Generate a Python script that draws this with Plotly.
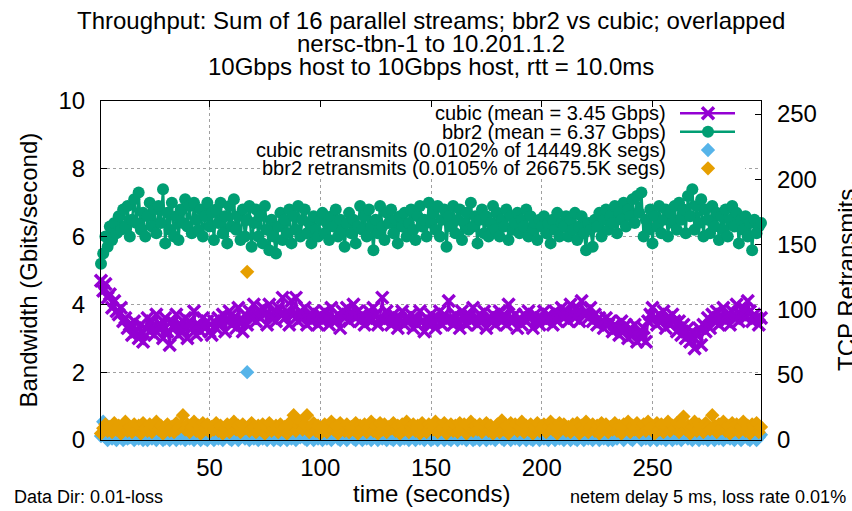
import plotly.graph_objects as go

# ---- measured series (one sample per second) ----
time_s = list(range(1, 300))

bbr2_gbps = [
    5.2, 5.5, 6.0, 5.7, 6.3, 5.9, 6.4, 6.1, 6.6, 6.2,
    6.8, 6.3, 6.9, 6.0, 6.5, 7.1, 6.4, 7.3, 6.2, 6.7,
    6.0, 6.6, 7.0, 6.3, 6.8, 6.1, 6.9, 6.4, 7.4, 5.8,
    6.7, 6.2, 7.0, 6.0, 6.6, 5.9, 6.8, 6.4, 7.1, 6.3,
    6.9, 6.1, 7.0, 6.5, 6.2, 6.8, 6.0, 6.6, 7.0, 6.3,
    6.7, 5.9, 6.8, 6.4, 7.0, 6.1, 6.6, 5.8, 6.9, 6.3,
    7.1, 6.2, 6.6, 5.9, 6.8, 6.0, 6.5, 6.9, 5.7, 6.4,
    6.8, 6.0, 6.6, 5.8, 6.9, 6.2, 5.6, 6.5, 6.0, 5.5,
    6.3, 6.7, 5.9, 6.5, 6.1, 6.8, 5.8, 6.6, 6.2, 6.9,
    6.0, 6.5, 6.8, 6.1, 6.4, 5.8, 6.6, 6.2, 6.0, 6.5,
    6.7, 6.1, 6.4, 5.9, 6.6, 6.3, 6.8, 6.0, 6.5, 6.2,
    5.7, 6.4, 6.7, 6.1, 6.5, 5.8, 6.3, 6.9, 6.2, 6.6,
    6.0, 6.8, 6.3, 5.6, 6.5, 6.1, 6.9, 6.3, 5.9, 6.7,
    6.4, 6.8, 6.1, 6.5, 5.8, 6.6, 6.3, 6.7, 6.0, 6.4,
    6.8, 6.2, 5.9, 6.6, 6.9, 6.3, 6.5, 6.0, 7.0, 6.4,
    6.7, 6.2, 6.9, 6.0, 6.5, 6.8, 5.7, 6.6, 6.3, 6.9,
    6.1, 6.5, 6.8, 5.9, 6.4, 6.7, 6.2, 7.0, 6.3, 6.6,
    5.8, 6.5, 6.8, 6.1, 6.6, 6.0, 6.4, 6.9, 6.2, 6.7,
    6.0, 6.5, 6.3, 6.8, 5.9, 6.6, 6.2, 6.4, 6.7, 6.1,
    6.5, 6.3, 6.8, 6.0, 6.6, 6.2, 6.4, 5.9, 6.5, 6.3,
    6.6, 6.1, 6.4, 5.8, 6.5, 6.2, 6.7, 6.0, 6.4, 6.3,
    6.6, 6.0, 6.5, 6.2, 6.7, 5.9, 6.3, 6.6, 6.1, 5.6,
    6.4, 6.2, 5.7, 6.5, 6.3, 6.7, 6.0, 6.5, 6.8, 6.2,
    6.6, 6.4, 6.9, 6.1, 6.7, 6.5, 7.0, 6.3, 6.8, 6.6,
    7.1, 6.4, 7.2, 6.7, 7.3, 6.0, 6.5, 6.2, 6.8, 5.8,
    6.6, 6.3, 6.9, 6.1, 6.5, 6.8, 6.0, 6.7, 6.4, 6.9,
    6.2, 7.0, 6.5, 6.8, 6.1, 7.2, 6.6, 7.4, 6.2, 6.9,
    6.4, 7.1, 6.0, 6.8, 6.5, 6.1, 6.9, 6.3, 6.7, 5.9,
    6.6, 6.2, 6.8, 6.0, 6.5, 6.9, 6.3, 6.7, 5.8, 6.5,
    6.2, 6.6, 6.0, 6.4, 5.6, 6.5, 6.1, 6.3, 6.4,
]

cubic_gbps = [
    4.7, 4.4, 4.6, 4.2, 4.3, 3.9, 4.1, 3.8, 3.7, 3.9,
    3.5, 3.6, 3.3, 3.4, 3.1, 3.5, 3.2, 3.0, 3.4, 2.9,
    3.3, 3.6, 3.2, 3.5, 3.1, 3.7, 3.3, 3.4, 3.0, 3.6,
    3.2, 2.8, 3.5, 3.3, 3.7, 3.1, 3.4, 3.2, 3.6, 3.0,
    3.5, 3.3, 3.8, 3.1, 3.4, 3.2, 3.6, 3.3, 3.5, 3.2,
    3.1, 3.5, 3.3, 3.6, 3.4, 3.7, 3.2, 3.5, 3.8, 3.4,
    3.6, 3.3, 3.9, 3.5, 3.2, 3.7, 3.4, 3.8, 3.6, 4.0,
    3.5, 3.8, 3.6, 3.9, 3.7, 3.4, 4.0, 3.6, 3.8, 3.5,
    3.9, 3.7, 4.2, 3.6, 3.8, 3.4, 4.1, 3.7, 4.2, 3.5,
    3.8, 3.6, 3.9, 3.4, 3.7, 3.5, 3.8, 3.6, 3.4, 3.7,
    3.5, 3.8, 3.6, 3.4, 3.9, 3.6, 3.5, 3.7, 3.3, 3.8,
    3.6, 3.9, 3.5, 3.7, 4.0, 3.6, 3.8, 3.5, 3.7, 3.4,
    3.6, 3.8, 3.5, 3.9, 3.7, 3.4, 3.6, 4.2, 3.5, 3.8,
    3.6, 3.4, 3.7, 3.5, 3.3, 3.6, 3.8, 3.4, 3.6, 3.5,
    3.7, 3.3, 3.6, 3.4, 3.8, 3.5, 3.2, 3.6, 3.4, 3.7,
    3.5, 3.3, 3.6, 3.8, 3.4, 3.7, 3.5, 4.1, 3.6, 3.4,
    3.7, 3.5, 3.3, 3.8, 3.6, 3.4, 3.7, 3.5, 3.9, 3.6,
    3.4, 3.7, 3.5, 3.8, 3.3, 3.6, 3.5, 3.7, 3.4, 3.6,
    3.8, 3.5, 3.7, 3.4, 4.0, 3.6, 3.5, 3.7, 3.3, 3.6,
    3.4, 3.7, 3.5, 3.8, 3.6, 3.3, 3.7, 3.5, 3.4, 3.6,
    3.8, 3.5, 3.7, 3.6, 3.4, 3.8, 3.5, 3.7, 3.9, 3.6,
    3.8, 3.5, 4.0, 3.7, 3.6, 3.9, 3.5, 4.1, 3.7, 3.8,
    3.6, 3.9, 3.5, 3.7, 3.4, 3.6, 3.5, 3.3, 3.6, 3.4,
    3.5, 3.2, 3.4, 3.3, 3.1, 3.5, 3.2, 3.4, 3.0, 3.3,
    3.1, 3.4, 2.9, 3.2, 3.0, 3.3, 2.9, 3.5, 3.7, 3.9,
    3.6, 3.4, 3.7, 3.5, 3.8, 3.3, 3.6, 3.4, 3.7, 3.5,
    3.2, 3.5, 3.1, 3.4, 3.0, 3.3, 2.9, 3.2, 2.7, 3.1,
    3.3, 2.8, 3.4, 3.2, 3.6, 3.3, 3.7, 3.5, 3.8, 3.4,
    3.6, 3.9, 3.5, 3.7, 3.4, 3.8, 3.6, 4.0, 3.5, 3.7,
    3.9, 3.6, 4.1, 3.8, 3.5, 3.7, 3.6, 3.4, 3.6,
]

cubic_retrans = [
    3, 14, 2, 0, 5, 1, 3, 0, 6, 2,
    0, 4, 1, 2, 7, 0, 3, 1, 5, 0,
    2, 0, 4, 1, 3, 0, 6, 2, 0, 1,
    5, 0, 2, 3, 0, 8, 1, 4, 0, 2,
    1, 5, 0, 3, 2, 0, 6, 1, 0, 4,
    2, 0, 3, 1, 7, 0, 2, 5, 1, 0,
    3, 6, 0, 2, 4, 1, 52, 0, 3, 1,
    5, 0, 2, 1, 4, 0, 3, 6, 0, 2,
    1, 0, 4, 2, 0, 7, 1, 3, 0, 8,
    2, 6, 1, 0, 3, 5, 0, 2, 1, 4,
    0, 3, 1, 6, 0, 2, 4, 1, 0, 5,
    2, 0, 3, 7, 1, 0, 4, 2, 0, 3,
    1, 5, 0, 2, 3, 0, 6, 1, 2, 0,
    4, 1, 0, 3, 5, 0, 2, 1, 7, 0,
    3, 2, 0, 4, 1, 6, 0, 2, 3, 0,
    1, 5, 0, 2, 4, 0, 3, 1, 0, 6,
    2, 0, 4, 1, 3, 0, 7, 2, 0, 1,
    5, 0, 3, 2, 0, 4, 1, 6, 0, 2,
    3, 1, 0, 5, 2, 0, 4, 1, 3, 0,
    6, 2, 0, 3, 1, 0, 5, 2, 0, 4,
    1, 3, 0, 7, 2, 0, 4, 1, 6, 0,
    2, 3, 0, 5, 1, 0, 4, 2, 0, 3,
    1, 6, 0, 2, 4, 0, 3, 1, 5, 0,
    2, 0, 4, 1, 3, 7, 0, 2, 5, 1,
    0, 3, 6, 2, 0, 4, 1, 5, 0, 8,
    2, 0, 3, 1, 6, 0, 2, 4, 0, 3,
    1, 5, 0, 2, 7, 1, 3, 0, 4, 2,
    0, 6, 1, 3, 0, 5, 2, 0, 4, 1,
    3, 0, 7, 2, 1, 4, 0, 3, 6, 0,
    2, 5, 1, 0, 8, 3, 0, 2, 4,
]

bbr2_retrans = [
    5, 9, 12, 7, 10, 6, 13, 8, 11, 5,
    9, 14, 7, 10, 6, 12, 8, 11, 5, 13,
    9, 7, 12, 6, 10, 14, 8, 11, 5, 9,
    12, 7, 10, 6, 13, 9, 11, 19, 8, 12,
    6, 10, 14, 7, 11, 5, 13, 9, 12, 6,
    10, 8, 13, 7, 11, 5, 9, 12, 6, 10,
    14, 8, 11, 6, 12, 9, 129, 7, 13, 10,
    6, 11, 8, 12, 5, 10, 13, 7, 9, 11,
    6, 12, 8, 10, 5, 13, 9, 19, 7, 11,
    14, 8, 12, 19, 6, 10, 13, 7, 11, 5,
    9, 12, 6, 10, 14, 8, 11, 5, 13, 9,
    7, 12, 6, 10, 8, 13, 5, 11, 9, 12,
    6, 10, 14, 7, 11, 5, 13, 8, 12, 6,
    10, 9, 13, 7, 11, 5, 12, 8, 14, 6,
    10, 12, 7, 11, 5, 13, 9, 6, 12, 10,
    8, 14, 6, 11, 9, 13, 5, 10, 12, 7,
    11, 6, 13, 9, 12, 5, 10, 14, 7, 11,
    8, 12, 6, 10, 13, 7, 11, 5, 9, 12,
    6, 15, 8, 11, 5, 13, 9, 12, 7, 10,
    14, 6, 11, 8, 12, 5, 10, 13, 7, 9,
    12, 6, 10, 14, 8, 11, 5, 13, 9, 12,
    7, 10, 6, 12, 9, 13, 5, 11, 8, 14,
    6, 10, 12, 7, 11, 5, 13, 9, 12, 6,
    10, 8, 13, 7, 11, 5, 12, 9, 14, 6,
    11, 8, 13, 6, 10, 12, 7, 14, 9, 11,
    5, 13, 8, 12, 6, 10, 14, 7, 11, 9,
    13, 6, 12, 18, 8, 11, 5, 10, 14, 7,
    12, 9, 6, 13, 10, 8, 19, 11, 6, 12,
    9, 14, 7, 11, 5, 13, 8, 12, 6, 10,
    14, 7, 11, 5, 12, 9, 13, 6, 10,
]

legend_labels = [
    "cubic (mean = 3.45 Gbps)",
    "bbr2 (mean = 6.37 Gbps)",
    "cubic retransmits (0.0102% of 14449.8K segs)",
    "bbr2 retransmits (0.0105% of 26675.5K segs)",
]

title_lines = [
    "Throughput: Sum of 16 parallel streams; bbr2 vs cubic; overlapped",
    "nersc-tbn-1 to 10.201.1.2",
    "10Gbps host to 10Gbps host, rtt = 10.0ms",
]

x_range = [1, 299]
y_range = [0, 10]
y2_range = [0, 260]
x_ticks = [50, 100, 150, 200, 250]
y_ticks = [0, 2, 4, 6, 8, 10]
y2_ticks = [0, 50, 100, 150, 200, 250]

# ---- styles ----
FONT = "Liberation Sans, Arial, sans-serif"
PURPLE = "#9400D3"
GREEN = "#009E73"
BLUE = "#56B4E9"
ORANGE = "#E69F00"

styles = [
    dict(mode="lines+markers", line=dict(color=PURPLE, width=2.5),
         marker=dict(symbol="x-thin-open", size=12, color=PURPLE,
                     line=dict(color=PURPLE, width=3.5))),
    dict(mode="lines+markers", line=dict(color=GREEN, width=2.5),
         marker=dict(symbol="circle", size=12, color=GREEN)),
    dict(mode="markers", marker=dict(symbol="diamond", size=11, color=BLUE)),
    dict(mode="markers", marker=dict(symbol="diamond", size=11, color=ORANGE)),
]

fig = go.Figure()

series = [
    (cubic_gbps, "y"),
    (bbr2_gbps, "y"),
    (cubic_retrans, "y2"),
    (bbr2_retrans, "y2"),
]
for (vals, yax), st in zip(series, styles):
    fig.add_trace(go.Scatter(x=time_s, y=vals, yaxis=yax, cliponaxis=False,
                             showlegend=False, hoverinfo="skip", **st))

# ---- pixel helpers for the plot frame ----
PLOT_L, PLOT_R, PLOT_T, PLOT_B = 101, 761, 101, 440


def px_x(p):
    return (p - PLOT_L) / (PLOT_R - PLOT_L)


def px_y(p):
    return (PLOT_B - p) / (PLOT_B - PLOT_T)


def data_x(p):
    return x_range[0] + px_x(p) * (x_range[1] - x_range[0])


def data_y(p):
    return y_range[0] + px_y(p) * (y_range[1] - y_range[0])


# opaque key box hides the grid behind it (drawn between grid and traces)
fig.add_shape(type="rect", xref="x", yref="y",
              x0=data_x(263), x1=data_x(745), y0=data_y(178), y1=y_range[1],
              fillcolor="white", line=dict(width=0), layer="between")

# ---- key: right-aligned text with the sample drawn to its right ----
key_rows_px = [113.3, 131.7, 150.0, 168.3]
for label, row, st in zip(legend_labels, key_rows_px, styles):
    fig.add_annotation(text=label, xref="paper", yref="paper",
                       x=px_x(668), y=px_y(row), xanchor="right", yanchor="middle",
                       showarrow=False, font=dict(family=FONT, size=20, color="#000"))
    ky = px_y(row)
    if "lines" in st["mode"]:
        fig.add_trace(go.Scatter(x=[px_x(680), px_x(735)], y=[ky, ky], mode="lines",
                                 line=st["line"], xaxis="x3", yaxis="y3",
                                 showlegend=False, hoverinfo="skip", cliponaxis=False))
    fig.add_trace(go.Scatter(x=[px_x(708)], y=[ky], mode="markers", marker=st["marker"],
                             xaxis="x3", yaxis="y3", showlegend=False,
                             hoverinfo="skip", cliponaxis=False))

# ---- titles and footers ----
for line, cy in zip(title_lines, [20, 43, 66]):
    fig.add_annotation(text=line, xref="paper", yref="paper", x=0.5, y=px_y(cy),
                       xanchor="center", yanchor="middle", showarrow=False,
                       font=dict(family=FONT, size=24, color="#000"))

fig.add_annotation(text="time (seconds)", xref="paper", yref="paper",
                   x=0.5, y=px_y(493), xanchor="center", yanchor="middle",
                   showarrow=False, font=dict(family=FONT, size=24, color="#000"))
fig.add_annotation(text="Bandwidth (Gbits/second)", xref="paper", yref="paper",
                   x=px_x(28), y=0.5, textangle=-90, xanchor="center", yanchor="middle",
                   showarrow=False, font=dict(family=FONT, size=24, color="#000"))
fig.add_annotation(text="TCP Retransmits", xref="paper", yref="paper",
                   x=px_x(846), y=px_y(280), textangle=-90, xanchor="center",
                   yanchor="middle", showarrow=False,
                   font=dict(family=FONT, size=24, color="#000"))
fig.add_annotation(text="Data Dir: 0.01-loss", xref="paper", yref="paper",
                   x=px_x(12), y=px_y(497), xanchor="left", yanchor="middle",
                   showarrow=False, font=dict(family=FONT, size=18, color="#000"))
fig.add_annotation(text="netem delay 5 ms, loss rate 0.01%", xref="paper", yref="paper",
                   x=px_x(848), y=px_y(497), xanchor="right", yanchor="middle",
                   showarrow=False, font=dict(family=FONT, size=18, color="#000"))

grid = dict(showgrid=True, gridcolor="#a0a0a0", gridwidth=1, griddash="dot")
axis_common = dict(showline=True, linecolor="#000", linewidth=1.2, ticks="inside",
                   ticklen=6, tickcolor="#000", zeroline=False,
                   tickfont=dict(family=FONT, size=24, color="#000"))

fig.update_layout(
    width=852, height=511,
    margin=dict(l=PLOT_L, r=852 - PLOT_R, t=PLOT_T, b=511 - PLOT_B, pad=0),
    paper_bgcolor="white", plot_bgcolor="white",
    font=dict(family=FONT, size=24, color="#000"),
    showlegend=False,
    xaxis=dict(range=x_range, tickvals=x_ticks, mirror="ticks",
               ticklabelstandoff=6, **grid, **axis_common),
    yaxis=dict(range=y_range, tickvals=y_ticks, ticklabelstandoff=10,
               **grid, **axis_common),
    yaxis2=dict(range=y2_range, tickvals=y2_ticks, overlaying="y", side="right",
                showgrid=False, ticklabelstandoff=10, **axis_common),
    xaxis3=dict(range=[0, 1], overlaying="x", anchor="y3", visible=False),
    yaxis3=dict(range=[0, 1], overlaying="y", anchor="x3", visible=False),
)

fig.write_html("out.html")
